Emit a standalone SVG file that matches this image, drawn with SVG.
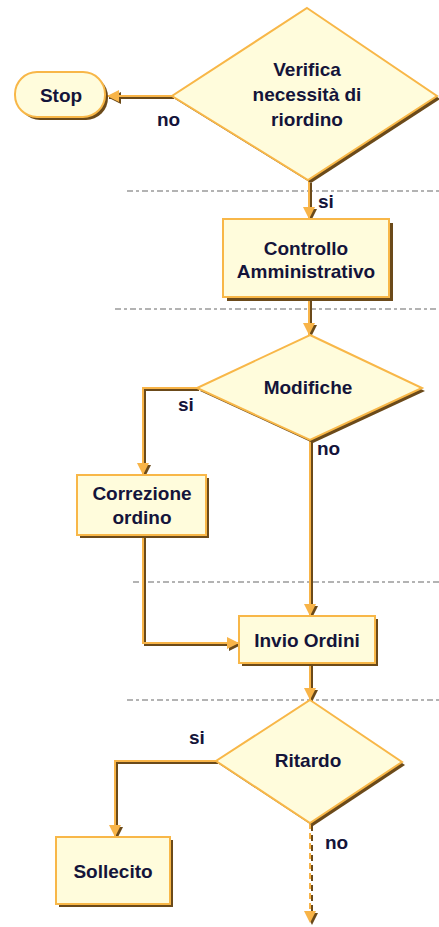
<svg xmlns="http://www.w3.org/2000/svg" width="439" height="927" viewBox="0 0 439 927">
<style>
.bg{fill:#ffffff}
.shape{fill:#fffcdc;stroke:#f8b748;stroke-width:2}
.shadow{fill:#6b4a1a;stroke:none}
.t{font-family:"Liberation Sans",Arial,sans-serif;font-size:19px;font-weight:bold;fill:#14143a;text-anchor:middle}
.lbl{font-family:"Liberation Sans",Arial,sans-serif;font-size:19px;font-weight:bold;fill:#14143a}
.sep{stroke:#9a9a9a;stroke-width:1.5;stroke-dasharray:6 3 3 3;fill:none}
.cs{fill:none;stroke:#6b4a1a;stroke-width:2}
.cm{fill:none;stroke:#f8b448;stroke-width:2}
.dash{stroke-dasharray:6 4}
</style>
<defs>
<marker id="ahs" markerUnits="userSpaceOnUse" markerWidth="14" markerHeight="14" refX="12" refY="6" orient="auto">
<path d="M0,0 L12,6 L0,12 Z" fill="#6b4a1a"/>
</marker>
<marker id="ahm" markerUnits="userSpaceOnUse" markerWidth="14" markerHeight="14" refX="12" refY="6" orient="auto">
<path d="M0,0 L12,6 L0,12 Z" fill="#f8b448"/>
</marker>
</defs>
<rect class="bg" x="0" y="0" width="439" height="927"/>
<g id="separators">
<line class="sep" x1="127" y1="191" x2="439" y2="191"/>
<line class="sep" x1="115" y1="309" x2="439" y2="309"/>
<line class="sep" x1="133" y1="582" x2="439" y2="582"/>
<line class="sep" x1="127" y1="700" x2="439" y2="700"/>
</g>
<g id="connectors">
<g transform="translate(2,2)">
<path class="cs" d="M172,96 H107" marker-end="url(#ahs)"/>
<path class="cs" d="M309,181 V219" marker-end="url(#ahs)"/>
<path class="cs" d="M309,297 V335" marker-end="url(#ahs)"/>
<path class="cs" d="M197,388 H143 V475" marker-end="url(#ahs)"/>
<path class="cs" d="M310,440 V616" marker-end="url(#ahs)"/>
<path class="cs" d="M143,535 V643 H239" marker-end="url(#ahs)"/>
<path class="cs" d="M310,663 V700" marker-end="url(#ahs)"/>
<path class="cs" d="M216,761 H115 V837" marker-end="url(#ahs)"/>
<path class="cs dash" d="M310,823 V923" marker-end="url(#ahs)"/>
</g>
<path class="cm" d="M172,96 H107" marker-end="url(#ahm)"/>
<path class="cm" d="M309,181 V219" marker-end="url(#ahm)"/>
<path class="cm" d="M309,297 V335" marker-end="url(#ahm)"/>
<path class="cm" d="M197,388 H143 V475" marker-end="url(#ahm)"/>
<path class="cm" d="M310,440 V616" marker-end="url(#ahm)"/>
<path class="cm" d="M143,535 V643 H239" marker-end="url(#ahm)"/>
<path class="cm" d="M310,663 V700" marker-end="url(#ahm)"/>
<path class="cm" d="M216,761 H115 V837" marker-end="url(#ahm)"/>
<path class="cm dash" d="M310,823 V923" marker-end="url(#ahm)"/>
<text class="lbl" x="157" y="126">no</text>
<text class="lbl" x="318" y="208">si</text>
<text class="lbl" x="178" y="411">si</text>
<text class="lbl" x="317" y="455">no</text>
<text class="lbl" x="189" y="744">si</text>
<text class="lbl" x="325" y="849">no</text>
</g>
<g id="verifica">
<polygon class="shadow" points="310,11 440,99 311,183 175,99"/>
<polygon class="shape" points="307,8 437,96 308,180 172,96"/>
<text class="t" x="307" y="76">Verifica</text>
<text class="t" x="307" y="101">necessità di</text>
<text class="t" x="307" y="126">riordino</text>
</g>
<g id="stop">
<rect class="shadow" x="18" y="75" width="90" height="45" rx="22"/>
<rect class="shape" x="15" y="72" width="90" height="45" rx="22"/>
<text class="t" x="61" y="102">Stop</text>
</g>
<g id="controllo">
<rect class="shadow" x="227" y="223" width="166" height="78"/>
<rect class="shape" x="223" y="219" width="166" height="78"/>
<text class="t" x="306" y="255">Controllo</text>
<text class="t" x="306" y="278">Amministrativo</text>
</g>
<g id="modifiche">
<polygon class="shadow" points="313,338 425,391 313,443 200,391"/>
<polygon class="shape" points="310,335 422,388 310,440 197,388"/>
<text class="t" x="308" y="394">Modifiche</text>
</g>
<g id="correzione">
<rect class="shadow" x="80" y="478" width="129" height="60"/>
<rect class="shape" x="77" y="475" width="129" height="60"/>
<text class="t" x="142" y="500">Correzione</text>
<text class="t" x="142" y="524">ordino</text>
</g>
<g id="invio">
<rect class="shadow" x="242" y="619" width="136" height="47"/>
<rect class="shape" x="239" y="616" width="136" height="47"/>
<text class="t" x="307" y="647">Invio Ordini</text>
</g>
<g id="ritardo">
<polygon class="shadow" points="313,703 405,765 313,826 219,764"/>
<polygon class="shape" points="310,700 402,762 310,823 216,761"/>
<text class="t" x="308" y="767">Ritardo</text>
</g>
<g id="sollecito">
<rect class="shadow" x="59" y="840" width="114" height="67"/>
<rect class="shape" x="56" y="837" width="114" height="67"/>
<text class="t" x="113" y="878">Sollecito</text>
</g>
</svg>
